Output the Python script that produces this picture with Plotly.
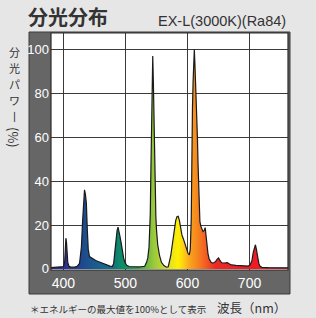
import plotly.graph_objects as go

# wavelength (nm) and relative spectral power (%)
wavelength = [380, 390, 396, 400, 402, 403, 404, 405, 406, 407, 409, 412, 418, 422, 426,
              429, 431, 432.5, 434, 435.5, 437, 438.5, 440, 442, 445, 448, 452, 456, 460,
              465, 470, 475, 479, 481, 483, 485, 486.5, 488, 489.5, 491, 493, 495, 497,
              499, 502, 506, 512, 520, 526, 531, 534, 536, 538, 539, 540, 541, 542, 543,
              544, 545, 546, 547, 548, 549, 550, 552, 555, 558, 562, 566, 569, 571, 573,
              575, 577, 579, 581, 583, 585, 587, 589, 591, 593, 595, 597, 599, 601, 603,
              604.5, 606, 607, 608, 609, 610, 611, 612, 613, 614, 615, 616, 617, 618,
              619, 620, 621.5, 623, 625, 627, 628.5, 630, 631.5, 633, 635, 638, 641,
              645, 648, 650, 652, 655, 659, 662, 664.5, 667, 671, 678, 685, 692, 698,
              701, 704, 706, 708, 709.5, 711, 713, 715, 717, 720, 730, 745, 762]
power = [0.6, 0.7, 0.8, 1.0, 3, 8, 14, 12, 7, 3, 1.2, 0.8, 0.8, 1.2, 2.5,
         10, 22, 31, 36, 34, 30, 18, 9, 5.6, 5, 4.2, 3.8, 3.4, 3.0,
         2.3, 1.7, 1.3, 1.2, 2.5, 8, 14, 17.5, 19, 17.5, 15, 12, 8, 5,
         3, 1.6, 1.1, 0.9, 0.9, 1.0, 1.2, 3, 5, 10, 16, 25, 45, 70, 86,
         97, 85, 65, 48, 34, 24, 18, 11, 6, 3, 1.5, 0.8, 1.0, 3, 6,
         10, 15, 19, 22, 23.8, 24, 22, 18, 15.5, 14, 12, 10.5, 9, 7, 6.4,
         9, 22, 60, 73, 85, 94, 100, 93, 86, 78, 69, 60, 48, 36,
         27, 21.5, 19.5, 18.5, 17, 17.5, 18.8, 15, 10, 7, 4.5, 3, 2.6,
         3.2, 4.5, 5, 4, 2.8, 2.7, 2.8, 2.9, 2.3, 1.8, 1.6, 1.4, 1.3, 1.3,
         1.8, 4, 7.5, 10.5, 11, 9, 5, 2.5, 1.2, 0.7, 0.6, 0.5, 0.5]

x_ticks = [400, 500, 600, 700]
y_ticks = [0, 20, 40, 60, 80, 100]

# spectral colours along the wavelength axis
grad_wl = [380, 405, 420, 436, 460, 480, 490, 505, 520, 535, 545, 560, 575, 585,
           595, 605, 615, 630, 645, 700, 762]
grad_col = ["#2e2a86", "#2e3192", "#233d8f", "#1c4f8e", "#1a6290", "#137182",
            "#0c8a6a", "#129160", "#3aa04a", "#6fb843", "#98c93c", "#c2d533",
            "#ece41c", "#fff000", "#fcc918", "#f8a01c", "#f6871f", "#f25b22",
            "#ee2a24", "#ed1c24", "#ed1c24"]

X0, X1 = 380, 762
cs = [[(w - X0) / (X1 - X0), c] for w, c in zip(grad_wl, grad_col)]

fig = go.Figure()
fig.add_trace(go.Scatter(
    x=wavelength, y=power, mode="lines",
    line=dict(color="#1a1a1a", width=1.2),
    fill="tozeroy",
    fillgradient=dict(type="horizontal", colorscale=cs, start=X0, stop=X1),
    hoverinfo="skip", showlegend=False,
))

W, H = 316, 318
ML, MR, MT, MB = 51, 28, 33, 48
PW, PH = W - ML - MR, H - MT - MB


def px(x):
    return (x - ML) / PW


def py(y):
    return (H - MB - y) / PH


shapes = [
    dict(type="rect", xref="paper", yref="paper", x0=px(29), x1=px(290), y0=py(294), y1=py(32),
         fillcolor="#666666", line=dict(color="#3a3a3a", width=1), layer="below"),
    dict(type="rect", xref="paper", yref="paper", x0=0, x1=1, y0=0, y1=1,
         fillcolor="white", line=dict(width=0), layer="below"),
    dict(type="rect", xref="paper", yref="paper", x0=0, x1=1, y0=0, y1=1,
         fillcolor="rgba(0,0,0,0)", line=dict(color="#2a2a2a", width=1.2), layer="above"),
]

cjk = "Noto Sans CJK JP"
ann = [
    dict(text="<b>分光分布</b>", x=px(26), y=py(17), xanchor="left", yanchor="middle",
         font=dict(family=cjk, size=20, color="#333333")),
    dict(text="EX-L(3000K)(Ra84)", x=px(288), y=py(21), xanchor="right", yanchor="middle",
         font=dict(family="Liberation Sans", size=14.5, color="#333333")),
    dict(text="＊エネルギーの最大値を100%として表示", x=px(28), y=py(309), xanchor="left",
         yanchor="middle", font=dict(family=cjk, size=9.5, color="#333333")),
    dict(text="波長（nm）", x=px(288), y=py(307), xanchor="right", yanchor="middle",
         font=dict(family=cjk, size=12.5, color="#333333")),
    dict(text="(%)", x=px(14), y=py(137), xanchor="center", yanchor="middle",
         textangle=90, font=dict(family=cjk, size=13, color="#333333")),
]
for ch, yy in [("分", 52), ("光", 68), ("パ", 84), ("ワ", 100), ("丨", 116)]:
    ann.append(dict(text=ch, x=px(14), y=py(yy), xanchor="center", yanchor="middle",
                    font=dict(family=cjk, size=11, color="#333333")))
for a in ann:
    a.update(xref="paper", yref="paper", showarrow=False)

fig.update_layout(
    width=W, height=H,
    margin=dict(l=ML, r=MR, t=MT, b=MB, pad=0),
    paper_bgcolor="#e6e6e6", plot_bgcolor="rgba(0,0,0,0)",
    shapes=shapes, annotations=ann,
    xaxis=dict(range=[X0, X1], tickvals=x_ticks, showgrid=True, gridcolor="#3a3a3a",
               gridwidth=1, zeroline=False, showline=False, ticks="",
               tickfont=dict(family="Liberation Sans", size=14, color="white"),
               ticklabelstandoff=3),
    yaxis=dict(range=[-0.5, 107.5], tickvals=y_ticks, showgrid=True, gridcolor="#3a3a3a",
               gridwidth=1, zeroline=False, showline=False, ticks="",
               tickfont=dict(family="Liberation Sans", size=13, color="white"),
               ticklabelstandoff=1),
)

fig.write_html("out.html")
